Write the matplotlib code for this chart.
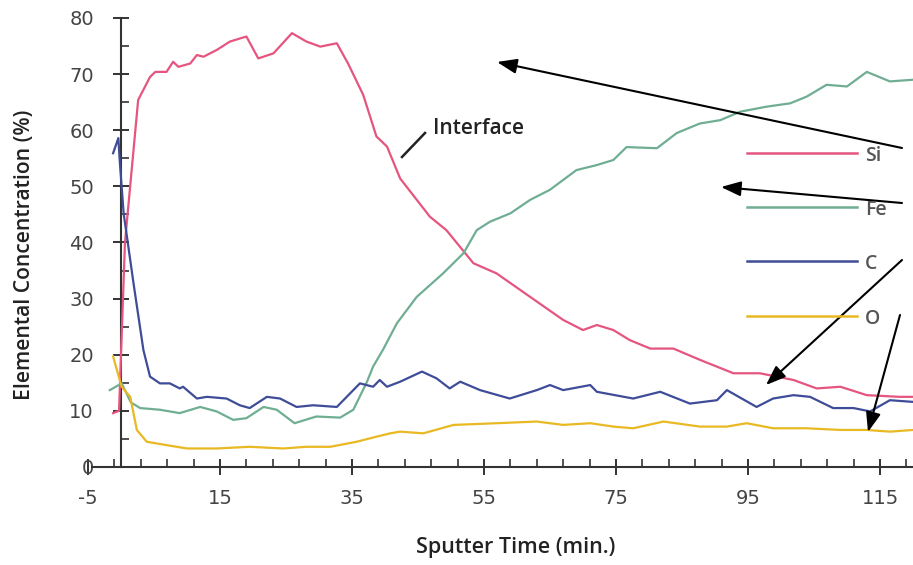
import numpy as np
import matplotlib.pyplot as plt

plt.rcParams['axes.unicode_minus'] = False

# depth profile data
si_t = [-1.2, -0.3, 0.6, 1.9, 2.6, 4.4, 5.2, 6.9, 7.9, 8.7, 10.5, 11.5, 12.5, 14.5, 16.5, 19.0,
        20.8, 23.1, 25.9, 28.1, 30.2, 32.7, 34.4, 36.7, 38.7, 40.3, 42.3, 46.8, 49.3, 53.4, 56.9,
        62.0, 67.0, 70.0, 72.1, 74.6, 77.1, 80.2, 83.7, 87.7, 92.8, 96.8, 101.9, 105.4, 109.0,
        113.0, 118.0, 120.0]
si = [9.6, 10.0, 40.0, 56.5, 65.4, 69.5, 70.4, 70.4, 72.2, 71.3, 71.9, 73.4, 73.1, 74.3, 75.8, 76.7,
      72.8, 73.7, 77.3, 75.8, 74.9, 75.5, 71.9, 66.3, 58.9, 57.1, 51.4, 44.6, 42.2, 36.3, 34.5,
      30.3, 26.2, 24.4, 25.3, 24.4, 22.6, 21.1, 21.1, 19.1, 16.7, 16.7, 15.5, 14.0, 14.3,
      12.8, 12.5, 12.5]

fe_t = [-1.7, 0.1, 1.5, 2.9, 5.9, 8.9, 12.0, 14.5, 17.0, 19.0, 21.6, 23.6, 26.3, 29.6, 33.2, 35.2,
        37.2, 38.2, 39.7, 41.8, 44.8, 48.8, 51.9, 53.9, 55.9, 59.0, 62.0, 65.0, 69.0, 72.1, 74.6,
        76.6, 81.2, 84.2, 87.7, 90.8, 93.8, 97.8, 101.4, 103.9, 106.9, 110.0, 113.0, 116.5, 120.0]
fe = [13.7, 14.9, 11.5, 10.5, 10.2, 9.6, 10.7, 9.9, 8.4, 8.7, 10.7, 10.2, 7.8, 9.0, 8.8, 10.2,
      15.0, 17.9, 20.9, 25.6, 30.3, 34.5, 38.1, 42.2, 43.7, 45.2, 47.6, 49.4, 52.9, 53.8, 54.7,
      57.0, 56.8, 59.5, 61.2, 61.8, 63.3, 64.2, 64.8, 66.0, 68.1, 67.8, 70.4, 68.7, 69.0]

c_t = [-1.2, -0.4, -0.2, 0.4, 1.9, 3.4, 4.4, 5.9, 7.4, 8.9, 9.4, 11.5, 13.0, 16.0, 18.0, 19.5,
       22.1, 24.1, 26.6, 29.1, 32.7, 34.2, 36.2, 38.2, 39.2, 40.3, 42.3, 45.6, 47.8, 49.8, 51.4,
       54.4, 58.9, 63.0, 65.0, 67.0, 71.1, 72.1, 77.6, 81.7, 86.2, 90.3, 91.8, 96.3, 98.8, 101.9,
       104.4, 107.9, 111.0, 113.5, 116.5, 120.0]
c = [55.9, 58.6, 54.7, 45.2, 32.7, 20.8, 16.1, 14.9, 14.9, 14.0, 14.3, 12.2, 12.5, 12.2, 11.0, 10.5,
     12.5, 12.2, 10.7, 11.0, 10.7, 12.5, 14.9, 14.3, 15.5, 14.3, 15.2, 17.0, 15.8, 14.0, 15.2,
     13.7, 12.2, 13.7, 14.6, 13.7, 14.6, 13.4, 12.2, 13.4, 11.3, 11.9, 13.7, 10.7, 12.2, 12.8,
     12.5, 10.5, 10.5, 9.9, 11.9, 11.6]

o_t = [-1.2, 0.1, 1.4, 2.4, 3.9, 6.9, 10.0, 14.5, 19.5, 24.6, 28.0, 31.7, 35.7, 38.7, 40.8, 42.3,
       45.8, 50.4, 56.9, 63.0, 67.0, 71.1, 74.6, 77.6, 82.2, 87.7, 91.8, 94.8, 98.8, 103.9, 109.0,
       113.0, 116.5, 120.0]
o = [19.7, 14.3, 12.5, 6.6, 4.5, 3.9, 3.3, 3.3, 3.6, 3.3, 3.6, 3.6, 4.5, 5.4, 6.0, 6.3,
     6.0, 7.5, 7.8, 8.1, 7.5, 7.8, 7.2, 6.9, 8.1, 7.2, 7.2, 7.8, 6.9, 6.9, 6.6,
     6.6, 6.3, 6.6]

labels = ['Si', 'Fe', 'C', 'O']
colors = ['#e5557f', '#6fae93', '#3f4c98', '#e8b923']

W, H = 913, 565
fig = plt.figure(figsize=(W/100, H/100), dpi=100)
ax = fig.add_axes([88/W, 1-467/H, 825/W, 449/H])

series = [(si_t, si), (fe_t, fe), (c_t, c), (o_t, o)]
for (t, v), col in zip(series, colors):
    ax.plot(t, v, color=col, lw=1.6, clip_on=False, zorder=3)

ax.set_xlim(-5, 120)
ax.set_ylim(0, 80)
ax.spines['top'].set_visible(False)
ax.spines['right'].set_visible(False)
ax.spines['left'].set_position(('data', 0))
ax.spines['bottom'].set_bounds(-4.4, 120)
for s in ['left', 'bottom']:
    ax.spines[s].set_color('#333333')
    ax.spines[s].set_linewidth(1.5)

ax.set_xticks(np.arange(-5, 120, 20))
ax.set_xticks([v for v in np.arange(-1, 121, 4) if (v + 5) % 20 != 0], minor=True)
ax.set_yticks(np.arange(0, 81, 10))
ax.set_yticks(np.arange(5, 80, 10), minor=True)
ax.tick_params(axis='both', which='major', direction='inout', length=11, width=1.4,
               color='#333333', labelsize=14, labelcolor='#444444')
ax.tick_params(axis='both', which='minor', direction='in', length=6, width=1.2, color='#333333')
ax.tick_params(axis='x', which='major', pad=10)
ax.tick_params(axis='y', which='major', pad=14)

lab_font = dict(family='Open Sans', weight='semibold', color='#222222')
fig.text(25/W, 1-255/H, 'Elemental Concentration (%)', rotation=90, ha='center', va='center',
         fontsize=15.2, **lab_font)
fig.text(516/W, 1-548/H, 'Sputter Time (min.)', ha='center', va='center',
         fontsize=15.5, **lab_font)

# legend drawn at the right side
leg_y = [153, 207, 261, 316]
for lab, col, yy in zip(labels, colors, leg_y):
    fig.add_artist(plt.Line2D([747/W, 857/W], [1-yy/H, 1-yy/H], color=col, lw=1.8))
    fig.text(865/W, 1-(yy+3)/H, lab, ha='left', va='center', fontsize=14,
             family='Open Sans', weight='semibold', color='#555555')

# arrows
arrows = [((902, 148), (497, 62)), ((902, 203), (721, 187)),
          ((902, 260), (766, 385)), ((900, 315), (868, 432))]
for (x0, y0), (x1, y1) in arrows:
    ax.annotate('', xy=(x1, H-y1), xycoords='figure pixels',
                xytext=(x0, H-y0), textcoords='figure pixels',
                arrowprops=dict(arrowstyle='-|>,head_length=1.2,head_width=0.45',
                                color='black', lw=1.5, shrinkA=0, shrinkB=0))

# interface label
fig.add_artist(plt.Line2D([402/W, 425/W], [1-157/H, 1-133/H], color='#222222', lw=1.8))
fig.text(433/W, 1-128/H, 'Interface', ha='left', va='center', fontsize=15,
         family='Open Sans', weight='semibold', color='#222222')

fig.savefig('out.png', dpi=100)
